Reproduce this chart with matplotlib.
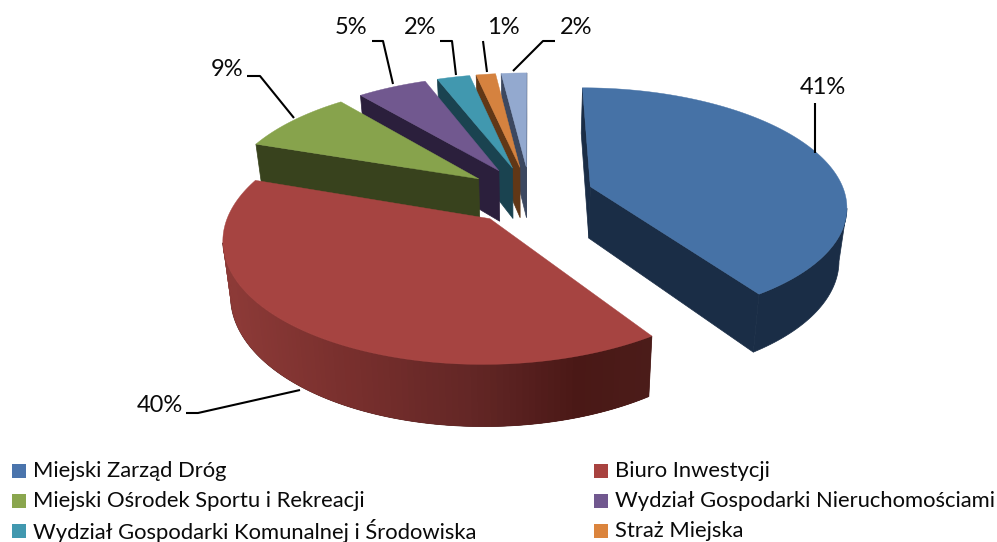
#### Exploded 3D pie drawn by hand, matplotlib has no real 3D pie
import numpy as np
import matplotlib.pyplot as plt
from matplotlib.patches import Polygon, Rectangle
from matplotlib.colors import to_rgb

plt.rcParams['font.family'] = ['Lato', 'DejaVu Sans']

# Data, slice sizes estimated from the angles
shares = [40.6, 39.7, 8.7, 5.2, 2.45, 1.45, 1.9]
categories = ['Miejski Zarząd Dróg', 'Biuro Inwestycji', 'Miejski Ośrodek Sportu i Rekreacji',
              'Wydział Gospodarki Nieruchomościami', 'Wydział Gospodarki Komunalnej i Środowiska',
              'Straż Miejska']

top_colors = ['#4672A6', '#A64441', '#87A34C', '#71588F', '#4198AF', '#D5823F', '#93A9CF']
side_colors = ['#1A2D46', '#4A1A18', '#38421D', '#2B1F3C', '#1A4350', '#613716', '#3C4860']
legend_colors = ['#4A74AC', '#A8423F', '#8AA64E', '#71588F', '#4198AF', '#DB843D']

# Projection of the pie, in pixels
cx, cy = 530, 195
radius_x, radius_y = 255, 116
persp = 0.15
explode = 0.25
depth = 52
bottom_shrink = 0.025  # bottom rim is a bit narrower than the top one
camera_v = -1 / persp

# red wall gets darker from left to right
red_x = [222, 340, 480, 580, 651]
red_wall = ['#8E3B38', '#7A302E', '#622625', '#4A1816', '#4B1C19']


def project(u, v, drop=0.0):
    s = 1 / (1 + persp * v)
    x = cx + radius_x * u * s * (1 - bottom_shrink * drop)
    return x, cy - radius_y * v * s + drop * depth * s ** 0.9


def wall_quad(u0, v0, u1, v1):
    return [project(u0, v0), project(u1, v1), project(u1, v1, 1), project(u0, v0, 1)]


def red_color(x):
    rgb = np.array([to_rgb(c) for c in red_wall])
    return [np.interp(x, red_x, rgb[:, k]) for k in range(3)]


def draw_slice(ax, start, end, top, side, gradient=False):
    mid = np.radians((start + end) / 2)
    au, av = explode * np.sin(mid), explode * np.cos(mid)
    t = np.radians(np.linspace(start, end, 120))
    u = au + np.sin(t)
    v = av + np.cos(t)

    # cut faces, only the ones turned to the camera
    a0, a1 = t[0], t[-1]
    if -np.cos(a0) * (-au) + np.sin(a0) * (camera_v - av) > 0:
        ax.add_patch(Polygon(wall_quad(au, av, u[0], v[0]), fc=side, ec=side, lw=0.5))
    if np.cos(a1) * (-au) - np.sin(a1) * (camera_v - av) > 0:
        ax.add_patch(Polygon(wall_quad(au, av, u[-1], v[-1]), fc=side, ec=side, lw=0.5))

    # outer wall, strips overlap the next one so no seams show
    front = np.cos(t) * (camera_v - v) + np.sin(t) * (-u) > 0
    if front.any():
        uf, vf = u[front], v[front]
        upper = [project(a, b) for a, b in zip(uf, vf)]
        lower = [project(a, b, 1) for a, b in zip(uf, vf)]
        ax.add_patch(Polygon(upper + lower[::-1], fc=side, ec=side, lw=0.5))
        if gradient:
            for i in range(len(uf) - 1):
                k = min(i + 2, len(uf) - 1)
                c = red_color(upper[i][0])
                ax.add_patch(Polygon(wall_quad(uf[i], vf[i], uf[k], vf[k]), fc=c, ec='none'))

    # top
    pts = [project(au, av)] + [project(a, b) for a, b in zip(u, v)]
    ax.add_patch(Polygon(pts, fc=top, ec=top, lw=0.3))


def main():
    fig = plt.figure(figsize=(9.97, 5.42), dpi=100)
    ax = fig.add_axes([0, 0, 1, 1])
    ax.set_xlim(0, 997)
    ax.set_ylim(542, 0)
    ax.axis('off')

    edges = np.cumsum([0] + shares) / sum(shares) * 360

    # painter order, small back slices first and the big front ones last
    for i in [6, 5, 4, 3, 2, 0, 1]:
        draw_slice(ax, edges[i], edges[i + 1], top_colors[i], side_colors[i], gradient=(i == 1))

    # labels with leader lines
    label_pos = [(823, 88), (160, 405), (227, 69), (351, 28), (420, 28), (503, 28), (576, 28)]
    leaders = [
        [(815, 103), (815, 153)],
        [(186, 413), (198, 413), (300, 390)],
        [(247, 76), (260, 76), (294, 118)],
        [(372, 41), (383, 41), (393, 84)],
        [(440, 41), (452, 41), (456, 75)],
        [(483, 41), (487, 72)],
        [(555, 41), (543, 41), (513, 71)],
    ]
    for value, pos, line in zip(shares, label_pos, leaders):
        ax.text(pos[0], pos[1], f'{round(value)}%', fontsize=17, color='#0A0A0A', ha='center', va='center')
        xs, ys = zip(*line)
        ax.plot(xs, ys, color='black', lw=1.5, solid_capstyle='butt')

    # legend, last row is cut off by the image border
    for i, name in enumerate(categories):
        col, row = i % 2, i // 2
        x = 12 if col == 0 else 594
        y = 471 + row * 30
        ax.add_patch(Rectangle((x, y - 7), 14, 14, fc=legend_colors[i], ec='none'))
        ax.text(x + 21, y, name, fontsize=15.8, color='#0A0A0A', ha='left', va='center')

    fig.savefig('out.png', dpi=100)


if __name__ == '__main__':
    main()
